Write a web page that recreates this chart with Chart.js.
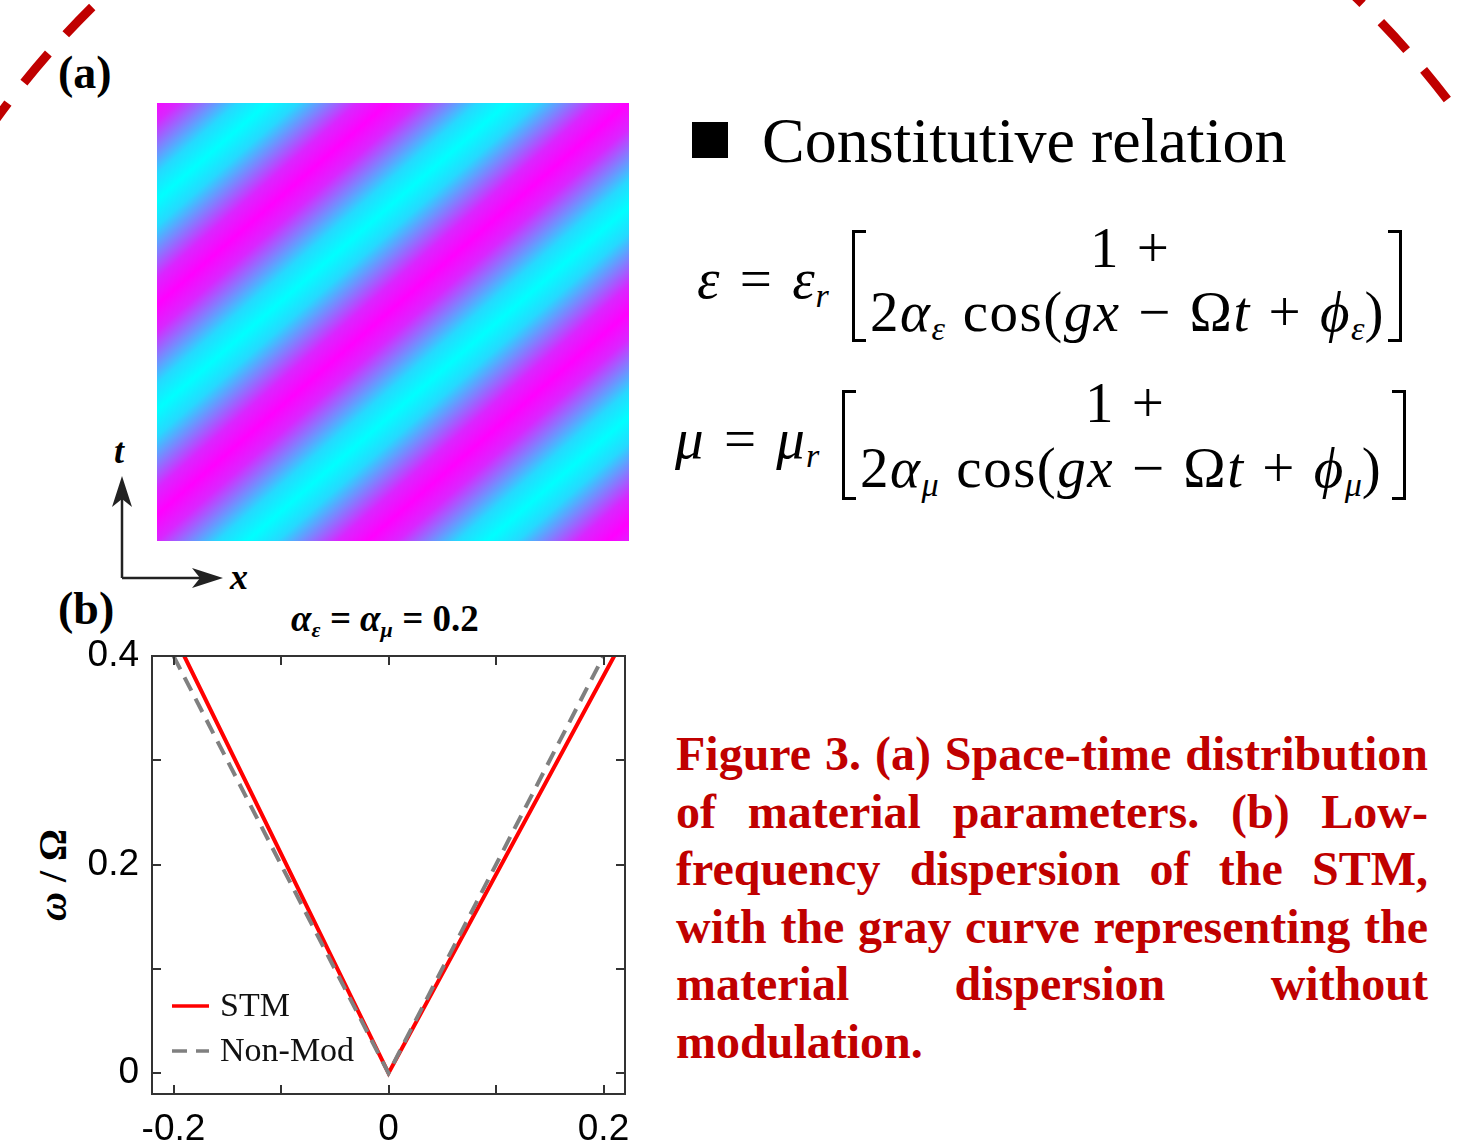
<!DOCTYPE html>
<html>
<head>
<meta charset="utf-8">
<title>STM dispersion</title>
<script src="https://cdn.jsdelivr.net/npm/chart.js@4.4.1/dist/chart.umd.min.js"></script>
<style>
  html, body { margin: 0; padding: 0; background: #fff; }
  #page { position: relative; width: 1458px; height: 1142px; overflow: hidden;
          font-family: 'Liberation Serif', 'Times New Roman', serif; color: #000; }
  .abs { position: absolute; white-space: nowrap; line-height: 1; }
  #deco { position: absolute; left: 0; top: 0; }
  .panel-tag { font-weight: bold; font-size: 46px; }
  #field { position: absolute; left: 157px; top: 103px; width: 472px; height: 438px;
    background: repeating-linear-gradient(138.8deg,
      #ff00ff -6px, #d926ff 13.75px, #8080ff 33.5px, #26d9ff 53.25px, #00ffff 73px,
      #26d9ff 92.75px, #8080ff 112.5px, #d926ff 132.25px, #ff00ff 152px); }
  .eq { font-size: 57px; letter-spacing: 1px; word-spacing: 2px; }
  .eq.long { letter-spacing: 1.5px; }
  .eq i { font-style: italic; }
  .eq sub { font-size: 0.6em; vertical-align: -0.25em; line-height: 0; letter-spacing: 0; }
  .br { position: absolute; border: 3px solid #000; width: 11px; }
  .br.l { border-right: none; }
  .br.r { border-left: none; }
  #caption { position: absolute; left: 676px; top: 725px; width: 752px; color: #c00000;
             font-weight: bold; font-size: 48px; }
  #caption div { height: 57.5px; line-height: 57.5px; text-align: justify; text-align-last: justify;
                 white-space: nowrap; }
  #caption div.last { text-align-last: left; }
  #chart-box { position: absolute; left: 0; top: 600px; width: 660px; height: 542px; }
</style>
</head>
<body>
<div id="page">
  <svg id="deco" width="1458" height="1142">
    <circle cx="729" cy="650" r="905" fill="none" stroke="#c00000" stroke-width="9" stroke-dasharray="38 26"/>
    <g stroke="#222" stroke-width="2.5" fill="none">
      <path d="M122 578 V498 M122 578 H200"/>
    </g>
    <g fill="#222">
      <path d="M122 476 L132 507 L122 499 L112 507 Z"/>
      <path d="M223 578 L192 568 L200 578 L192 588 Z"/>
    </g>
  </svg>

  <div class="abs panel-tag" style="left:58px;top:50px">(a)</div>
  <div id="field"></div>
  <div class="abs" style="left:114px;top:430px;font:italic bold 36px 'Liberation Serif'">t</div>
  <div class="abs" style="left:230px;top:556px;font:italic bold 36px 'Liberation Serif'">x</div>

  <div class="abs" style="left:692px;top:122px;width:36px;height:36px;background:#000"></div>
  <div class="abs" style="left:762px;top:109px;font-size:64px">Constitutive relation</div>

  <div class="abs eq" style="left:697px;top:250px;word-spacing:4px"><i>ε</i> = <i>ε</i><sub><i>r</i></sub></div>
  <div class="br l" style="left:852px;top:230px;height:106px"></div>
  <div class="br r" style="left:1388px;top:230px;height:106px"></div>
  <div class="abs eq" style="left:1090px;top:219px">1 +</div>
  <div class="abs eq long" style="left:870px;top:283px">2<i>α</i><sub><i>ε</i></sub> cos(<i>gx</i> − Ω<i>t</i> + <i>ϕ</i><sub><i>ε</i></sub>)</div>

  <div class="abs eq" style="left:675px;top:410px;word-spacing:4px"><i>μ</i> = <i>μ</i><sub><i>r</i></sub></div>
  <div class="br l" style="left:842px;top:390px;height:104px"></div>
  <div class="br r" style="left:1392px;top:390px;height:104px"></div>
  <div class="abs eq" style="left:1085px;top:374px">1 +</div>
  <div class="abs eq long" style="left:860px;top:439px">2<i>α</i><sub><i>μ</i></sub> cos(<i>gx</i> − Ω<i>t</i> + <i>ϕ</i><sub><i>μ</i></sub>)</div>

  <div class="abs panel-tag" style="left:58px;top:586px">(b)</div>
  <div class="abs" style="left:291px;top:597px;font:italic bold 37px 'Liberation Serif'">α<sub style="font-size:22px;vertical-align:-6px">ε</sub> = α<sub style="font-size:22px;vertical-align:-6px">μ</sub> = <span style="font-style:normal">0.2</span></div>
  <div class="abs" style="left:52px;top:875px;transform:translate(-50%,-50%) rotate(-90deg);font:bold 40px 'Liberation Serif'"><i>ω</i> / Ω</div>

  <div id="chart-box"><canvas id="chart" width="660" height="542"></canvas></div>

  <div id="caption">
    <div>Figure 3. (a) Space-time distribution</div>
    <div>of material parameters. (b) Low-</div>
    <div>frequency dispersion of the STM,</div>
    <div>with the gray curve representing the</div>
    <div>material dispersion without</div>
    <div class="last">modulation.</div>
  </div>
</div>

<script>
// dispersion branches: wavenumber k (units of g) vs. frequency omega / Omega
const stmK = [-0.19, 0, 0.21];
const stmOmega = [0.4, 0, 0.4];
const nonModK = [-0.2, 0, 0.2];
const nonModOmega = [0.4, 0, 0.4];
const seriesNames = ['STM', 'Non-Mod'];

const xTickValues = [-0.2, -0.1, 0, 0.1, 0.2];
const yTickValues = [0, 0.1, 0.2, 0.3, 0.4];
const xTickLabels = ['-0.2', '0', '0.2'];
const yTickLabels = ['0', '0.2', '0.4'];

const toPoints = (xs, ys) => xs.map((v, i) => ({ x: v, y: ys[i] }));

// box frame with inward ticks on all four sides
const frameTicks = {
  id: 'frameTicks',
  afterDatasetsDraw(chart) {
    const { ctx, chartArea: a, scales: { x, y } } = chart;
    const len = 9;
    ctx.save();
    ctx.strokeStyle = '#333';
    ctx.lineWidth = 2;
    ctx.beginPath();
    xTickValues.forEach((v) => {
      const px = Math.round(x.getPixelForValue(v));
      ctx.moveTo(px, a.bottom); ctx.lineTo(px, a.bottom - len);
      ctx.moveTo(px, a.top); ctx.lineTo(px, a.top + len);
    });
    yTickValues.forEach((v) => {
      const py = Math.round(y.getPixelForValue(v));
      ctx.moveTo(a.left, py); ctx.lineTo(a.left + len, py);
      ctx.moveTo(a.right, py); ctx.lineTo(a.right - len, py);
    });
    ctx.stroke();
    ctx.strokeRect(a.left, a.top, a.right - a.left, a.bottom - a.top);
    ctx.restore();
  },
};

// small legend in the lower-left corner of the plot
const insetLegend = {
  id: 'insetLegend',
  afterDraw(chart) {
    const { ctx, chartArea: a } = chart;
    ctx.save();
    ctx.font = '34px "Liberation Serif"';
    ctx.textBaseline = 'middle';
    chart.data.datasets.forEach((ds, i) => {
      const yy = a.bottom - 88 + i * 45;
      ctx.strokeStyle = ds.borderColor;
      ctx.lineWidth = 3.5;
      ctx.setLineDash(ds.borderDash || []);
      ctx.beginPath();
      ctx.moveTo(a.left + 20, yy);
      ctx.lineTo(a.left + 57, yy);
      ctx.stroke();
      ctx.setLineDash([]);
      ctx.fillStyle = '#111';
      ctx.fillText(ds.label, a.left + 68, yy + 1);
    });
    ctx.restore();
  },
};

new Chart(document.getElementById('chart'), {
  type: 'scatter',
  data: {
    datasets: [
      {
        label: seriesNames[0],
        data: toPoints(stmK, stmOmega),
        showLine: true,
        borderColor: '#ff0000',
        borderWidth: 4,
        pointRadius: 0,
        order: 2,
      },
      {
        label: seriesNames[1],
        data: toPoints(nonModK, nonModOmega),
        showLine: true,
        borderColor: '#808080',
        borderWidth: 4,
        borderDash: [15, 9],
        pointRadius: 0,
        order: 1,
      },
    ],
  },
  options: {
    responsive: false,
    animation: false,
    layout: { padding: { left: 0, top: 56, right: 35, bottom: 0 } },
    plugins: { legend: { display: false }, tooltip: { enabled: false } },
    scales: {
      x: {
        type: 'linear',
        min: -0.22,
        max: 0.22,
        grid: { display: false },
        border: { display: false },
        afterBuildTicks: (s) => { s.ticks = xTickValues.map((v) => ({ value: v })); },
        afterFit: (s) => { s.height = 48; },
        ticks: {
          autoSkip: false,
          maxRotation: 0,
          padding: 6,
          color: '#000',
          font: { family: 'Liberation Sans', size: 37 },
          callback: (v) => (xTickLabels.includes(String(v)) ? String(v) : ''),
        },
      },
      y: {
        type: 'linear',
        min: -0.02,
        max: 0.4,
        grid: { display: false },
        border: { display: false },
        afterBuildTicks: (s) => { s.ticks = yTickValues.map((v) => ({ value: v })); },
        afterFit: (s) => { s.width = 152; },
        ticks: {
          autoSkip: false,
          padding: 5,
          color: '#000',
          font: { family: 'Liberation Sans', size: 37 },
          callback: (v) => (yTickLabels.includes(String(v)) ? String(v) : ''),
        },
      },
    },
  },
  plugins: [frameTicks, insetLegend],
});
</script>
</body>
</html>
